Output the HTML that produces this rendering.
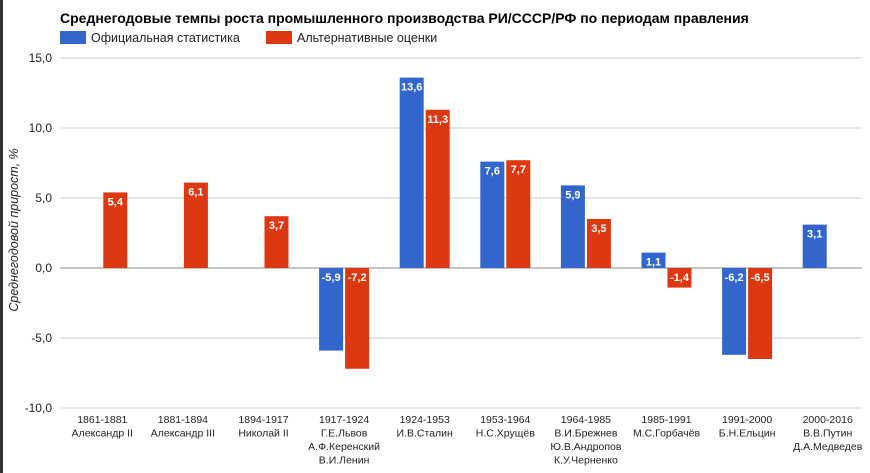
<!DOCTYPE html>
<html><head><meta charset="utf-8"><style>
body{margin:0;width:870px;height:473px;background:#fff;overflow:hidden;font-family:"Liberation Sans",sans-serif;position:relative}
svg{position:absolute;left:0;top:0}
</style></head><body>
<svg width="870" height="473">
<rect x="0" y="0" width="3" height="473" fill="#333"/>
<text x="60" y="23" font-size="14" font-weight="bold" fill="#000">Среднегодовые темпы роста промышленного производства РИ/СССР/РФ по периодам правления</text>
<g><rect x="60" y="31" width="26" height="13" fill="#3366cc"/><text x="91" y="42" font-size="12.5" fill="#222">Официальная статистика</text></g>
<g><rect x="266" y="31" width="26" height="13" fill="#dc3912"/><text x="297" y="42" font-size="12.5" fill="#222">Альтернативные оценки</text></g>
<text transform="translate(18,230) rotate(-90)" text-anchor="middle" font-size="12.5" font-style="italic" fill="#222">Среднегодовой прирост, %</text>
<g id="grid"></g><g id="bars"></g><g id="xl"></g>
</svg>
<script>
const categories=[["1861-1881","Александр II"],["1881-1894","Александр III"],["1894-1917","Николай II"],["1917-1924","Г.Е.Львов","А.Ф.Керенский","В.И.Ленин"],["1924-1953","И.В.Сталин"],["1953-1964","Н.С.Хрущёв"],["1964-1985","В.И.Брежнев","Ю.В.Андропов","К.У.Черненко"],["1985-1991","М.С.Горбачёв"],["1991-2000","Б.Н.Ельцин"],["2000-2016","В.В.Путин","Д.А.Медведев"]];
const official=[null,null,null,-5.9,13.6,7.6,5.9,1.1,-6.2,3.1];
const alternative=[5.4,6.1,3.7,-7.2,11.3,7.7,3.5,-1.4,-6.5,null];
const ticks=[15,10,5,0,-5,-10];
const NS="http://www.w3.org/2000/svg";
const y=v=>268-v*14;
const x0=62,step=80.6,bw=24;
const cx=i=>x0+step*(i+0.5);
const fmt=v=>v.toFixed(1).replace('.',',');
function mk(tag,at,parent,txt){const e=document.createElementNS(NS,tag);for(const k in at)e.setAttribute(k,at[k]);if(txt!==undefined)e.textContent=txt;document.getElementById(parent).appendChild(e);return e;}
ticks.forEach(t=>{
 const l=mk('line',{x1:60,x2:862,y1:y(t),y2:y(t),stroke:t===0?'#888':'#ccc','stroke-width':1},'grid');
 
 
 const tx=mk('text',{x:52,y:y(t)+4,'text-anchor':'end','font-size':12,fill:'#222'},'grid',fmt(t));
 
 
});
function bar(v,i,off,color,name){
 if(v===null)return;
 const top=Math.min(y(v),y(0)),h=Math.abs(y(v)-y(0));
 const bx=cx(i)+off;
 const r=mk('rect',{x:bx,y:top,width:bw,height:h,fill:color},'bars');
 
 
 const t=mk('text',{x:bx+bw/2,y:top+13,'text-anchor':'middle','font-size':11,'font-weight':'bold',fill:'#fff'},'bars',fmt(v));
 
 
}
categories.forEach((c,i)=>{
 bar(official[i],i,-bw-1,'#3366cc','bar-official');
 bar(alternative[i],i,1,'#dc3912','bar-alternative');
 c.forEach((s,j)=>{
  const t=mk('text',{x:cx(i),y:423+j*13.5,'text-anchor':'middle','font-size':10.5,fill:'#222'},'xl',s);
  
  
 });
});
</script>
</body></html>
